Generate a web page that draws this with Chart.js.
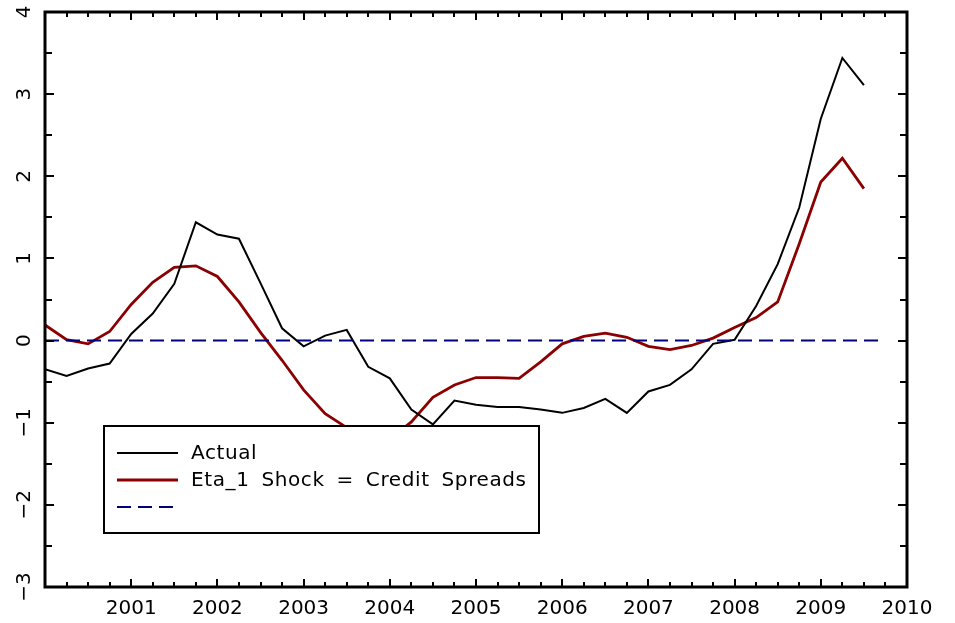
<!DOCTYPE html>
<html>
<head>
<meta charset="utf-8">
<script src="https://cdn.jsdelivr.net/npm/chart.js@4"></script>
<style>
  body { margin: 0; background: #fff; }
</style>
</head>
<body>
<canvas id="chart" width="955" height="623"></canvas>
<script>
// quarterly dates, 2000Q1 .. 2009Q3
const quarters = [2000, 2000.25, 2000.5, 2000.75, 2001, 2001.25, 2001.5, 2001.75,
  2002, 2002.25, 2002.5, 2002.75, 2003, 2003.25, 2003.5, 2003.75,
  2004, 2004.25, 2004.5, 2004.75, 2005, 2005.25, 2005.5, 2005.75,
  2006, 2006.25, 2006.5, 2006.75, 2007, 2007.25, 2007.5, 2007.75,
  2008, 2008.25, 2008.5, 2008.75, 2009, 2009.25, 2009.5];

const actual = [-0.35, -0.43, -0.34, -0.28, 0.08, 0.33, 0.69, 1.44,
  1.29, 1.24, 0.70, 0.15, -0.07, 0.06, 0.13, -0.32,
  -0.46, -0.84, -1.02, -0.73, -0.78, -0.81, -0.81, -0.84,
  -0.88, -0.82, -0.71, -0.88, -0.62, -0.54, -0.35, -0.04,
  0.01, 0.42, 0.93, 1.62, 2.70, 3.44, 3.11];

const etaShock = [0.19, 0.01, -0.04, 0.11, 0.44, 0.71, 0.89, 0.91,
  0.78, 0.47, 0.10, -0.24, -0.60, -0.89, -1.06, -1.22,
  -1.20, -0.99, -0.69, -0.54, -0.45, -0.45, -0.46, -0.26,
  -0.04, 0.05, 0.09, 0.04, -0.07, -0.11, -0.06, 0.03,
  0.16, 0.28, 0.47, 1.18, 1.93, 2.22, 1.85];

const zeroSpan = [2000, 2009.7];
const zeroLine = [0, 0];

const yTicks = [-3, -2, -1, 0, 1, 2, 3, 4];
const xTickLabels = ['', '2001', '2002', '2003', '2004', '2005', '2006', '2007', '2008', '2009', '2010'];

const FONT = 'DejaVu Sans';

function pairs(xs, ys) {
  return xs.map((x, i) => ({ x: x, y: ys[i] }));
}

const framePlugin = {
  id: 'frame',
  afterDatasetsDraw(chart) {
    const ctx = chart.ctx;
    const a = chart.chartArea;
    const xs = chart.scales.x;
    const ys = chart.scales.y;

    ctx.save();
    ctx.strokeStyle = '#000';

    // inward tick marks, quarters on x, halves on y
    ctx.lineWidth = 2;
    for (let q = 0; q <= 40; q++) {
      const v = 2000 + q * 0.25;
      const px = Math.round(xs.getPixelForValue(v));
      const len = q % 4 === 0 ? 8 : 5;
      ctx.beginPath();
      ctx.moveTo(px, a.top); ctx.lineTo(px, a.top + len);
      ctx.moveTo(px, a.bottom); ctx.lineTo(px, a.bottom - len);
      ctx.stroke();
    }
    for (let h = 0; h <= 14; h++) {
      const v = -3 + h * 0.5;
      const py = Math.round(ys.getPixelForValue(v));
      const len = h % 2 === 0 ? 9 : 7;
      ctx.beginPath();
      ctx.moveTo(a.left, py); ctx.lineTo(a.left + len, py);
      ctx.moveTo(a.right, py); ctx.lineTo(a.right - len, py);
      ctx.stroke();
    }

    // frame
    ctx.lineWidth = 3;
    ctx.strokeRect(a.left, a.top, a.right - a.left, a.bottom - a.top);

    // rotated y labels
    ctx.fillStyle = '#000';
    ctx.font = '20px "' + FONT + '"';
    ctx.textAlign = 'center';
    ctx.textBaseline = 'middle';
    yTicks.forEach(v => {
      const py = ys.getPixelForValue(v);
      ctx.save();
      ctx.translate(25, py);
      ctx.rotate(-Math.PI / 2);
      ctx.fillText(v < 0 ? '\u2212' + Math.abs(v) : String(v), 0, 0);
      ctx.restore();
    });

    // legend box
    const box = { x: 104, y: 426, w: 435, h: 107 };
    ctx.fillStyle = '#fff';
    ctx.fillRect(box.x, box.y, box.w, box.h);
    ctx.lineWidth = 2;
    ctx.strokeStyle = '#000';
    ctx.strokeRect(box.x, box.y, box.w, box.h);

    ctx.textAlign = 'left';
    ctx.font = '20px "' + FONT + '"';
    ctx.letterSpacing = '0.6px';
    ctx.wordSpacing = '5px';
    ctx.fillStyle = '#000';
    chart.data.datasets.forEach((ds, i) => {
      const ry = box.y + 27 + i * 27;
      ctx.save();
      ctx.strokeStyle = ds.borderColor;
      ctx.lineWidth = ds.borderWidth;
      ctx.setLineDash(ds.borderDash || []);
      ctx.beginPath();
      ctx.moveTo(117, ry); ctx.lineTo(178, ry);
      ctx.stroke();
      ctx.restore();
      ctx.fillText(ds.label, 191, ry + 1);
    });

    ctx.restore();
  }
};

new Chart(document.getElementById('chart'), {
  type: 'line',
  data: {
    datasets: [{
      label: 'Actual',
      data: pairs(quarters, actual),
      borderColor: '#000000',
      borderWidth: 2,
      order: 1
    }, {
      label: 'Eta_1 Shock = Credit Spreads',
      data: pairs(quarters, etaShock),
      borderColor: '#8b0000',
      borderWidth: 2.8,
      order: 2
    }, {
      label: '',
      data: pairs(zeroSpan, zeroLine),
      borderColor: '#00007f',
      borderWidth: 2,
      borderDash: [14, 7],
      order: 0
    }]
  },
  options: {
    responsive: false,
    animation: false,
    layout: { padding: { left: 45, right: 48, top: 12, bottom: 0 } },
    elements: {
      point: { radius: 0 },
      line: { tension: 0, fill: false }
    },
    plugins: {
      legend: { display: false },
      tooltip: { enabled: false }
    },
    scales: {
      x: {
        type: 'linear',
        min: 2000,
        max: 2010,
        grid: { display: false, drawTicks: false },
        border: { display: false },
        afterFit: scale => { scale.height = 36; },
        ticks: {
          stepSize: 1,
          padding: 12,
          maxRotation: 0,
          color: '#000',
          font: { family: FONT, size: 20, lineHeight: 1 },
          callback: v => xTickLabels[Math.round(v - 2000)]
        }
      },
      y: {
        display: false,
        min: -3,
        max: 4
      }
    }
  },
  plugins: [framePlugin]
});
</script>
</body>
</html>
